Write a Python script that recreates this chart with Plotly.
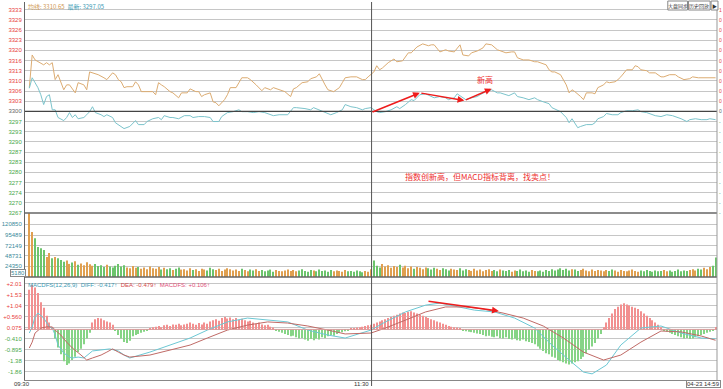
import numpy as np
import plotly.graph_objects as go

# ---------------- data ----------------
avg_min = [0,1,2,3,5,6,7,8,9,10,11,12,13,14,16,17,19,20,21,22,24,26,27,29,30,31,32,33,34,36,37,38,39,41,43,44,45,46,47,49,50,52,53,55,56,58,59,60,61,63,64,65,66,68,69,70,72,73,74,76,77,79,81,82,84,85,87,89,91,92,93,95,97,98,100,101,103,104,106,108,109,110,112,114,116,117,118,120,121,122,123,125,127,128,130,132,133,135,137,139,140,141,143,145,146,148,150,151,153,154,156,158,159,161,163,164,166,168,169,170,172,174,176,177,178,180,181,182,183,185,187,188,189,190,192,193,194,196,197,198,200,201,202,204,205,206,208,210,211,212,213,215,216,218,220,221,223,225,226,228,230,231,233,235,237,239]
avg_val = [3307.7,3318.3,3316.7,3316.1,3315.1,3315.8,3315.1,3315.8,3310.3,3311.9,3309.6,3307.0,3308.6,3308.6,3306.0,3309.3,3308.6,3307.0,3312.8,3312.5,3311.9,3310.9,3310.3,3312.5,3311.9,3310.3,3309.6,3307.7,3308.0,3308.0,3309.6,3308.6,3306.4,3306.4,3306.4,3305.4,3309.3,3308.6,3308.0,3306.4,3306.0,3304.4,3306.0,3306.0,3307.3,3306.4,3306.4,3304.8,3305.4,3306.0,3303.1,3302.8,3301.8,3303.8,3305.4,3307.7,3307.7,3309.3,3310.9,3310.9,3310.3,3308.6,3306.7,3307.7,3307.0,3307.7,3307.0,3306.4,3304.8,3307.3,3307.7,3309.3,3309.6,3310.6,3311.2,3312.2,3308.6,3307.0,3306.4,3307.7,3309.3,3310.9,3311.2,3311.2,3310.3,3310.3,3311.2,3312.8,3314.8,3313.5,3314.1,3315.8,3317.0,3316.1,3316.4,3319.0,3319.0,3320.9,3321.9,3321.3,3321.6,3321.6,3319.3,3320.0,3319.6,3319.3,3321.6,3318.3,3318.0,3319.0,3319.6,3320.6,3321.9,3321.6,3320.0,3319.6,3319.0,3319.3,3319.3,3317.4,3316.7,3316.7,3316.1,3316.1,3315.8,3315.1,3313.5,3312.8,3312.8,3311.9,3308.6,3306.0,3307.0,3306.4,3304.8,3303.8,3306.0,3306.0,3305.7,3307.7,3308.6,3309.6,3309.3,3309.6,3310.3,3311.2,3313.5,3313.5,3314.8,3314.5,3313.5,3313.2,3312.5,3312.5,3311.2,3311.2,3311.9,3311.9,3311.2,3310.3,3310.6,3311.2,3310.9,3310.9,3310.9,3310.9]

last_min = [0,1,2,3,4,5,6,7,8,9,10,12,13,14,15,16,17,19,20,21,22,23,25,26,27,29,30,32,33,35,37,38,40,41,43,45,46,47,49,50,52,54,56,57,59,61,63,64,66,67,69,71,73,74,76,78,80,82,84,85,87,90,92,93,96,98,99,101,103,105,107,109,110,112,114,116,117,119,121,122,124,126,128,129,131,133,134,136,138,140,141,143,145,146,148,149,151,152,154,156,157,159,161,163,164,166,167,169,170,172,174,176,177,179,181,182,184,185,187,188,189,190,191,192,194,196,197,198,200,201,203,205,206,208,210,212,213,215,217,218,220,222,224,225,227,229,230,232,234,236,237,239]
last_val = [3307.5,3310.9,3309.3,3307.7,3305.4,3302.2,3304.8,3305.4,3300.5,3300.5,3298.0,3297.0,3298.0,3299.6,3298.0,3298.9,3297.6,3298.0,3298.9,3299.9,3301.5,3299.6,3298.9,3298.3,3298.9,3298.0,3296.3,3295.1,3294.4,3295.1,3297.0,3295.7,3295.7,3296.7,3297.6,3298.0,3297.3,3298.6,3298.0,3298.0,3297.6,3298.6,3298.6,3298.0,3298.3,3298.3,3298.0,3296.7,3296.7,3298.3,3299.6,3299.9,3300.5,3299.9,3299.9,3299.6,3299.9,3299.6,3298.9,3298.6,3298.9,3298.9,3301.2,3301.2,3300.9,3300.5,3301.2,3300.5,3299.6,3298.9,3299.6,3300.5,3302.2,3301.5,3301.2,3300.5,3300.9,3301.2,3299.9,3299.6,3299.9,3300.5,3301.5,3300.9,3302.2,3303.8,3303.5,3305.4,3305.7,3304.8,3304.4,3304.8,3304.4,3303.8,3304.4,3305.7,3304.4,3303.8,3304.4,3304.8,3305.4,3306.4,3307.0,3306.0,3306.0,3305.4,3305.1,3306.0,3304.8,3304.4,3303.8,3304.4,3303.8,3303.1,3302.5,3301.2,3300.5,3299.9,3298.0,3296.3,3297.6,3296.3,3294.7,3295.1,3295.7,3295.7,3296.3,3297.6,3298.3,3299.3,3298.9,3298.9,3299.6,3300.2,3300.2,3300.5,3299.9,3299.6,3298.9,3298.6,3298.3,3298.9,3298.6,3298.3,3297.6,3296.7,3297.3,3297.6,3297.3,3297.3,3297.6,3297.3]

# volume per minute, in thousands of lots
vol_k = [146,103,89,69,66,62,46,55,43,46,
         43,39,35,38,30,33,36,28,31,27,
         34,29,26,30,25,27,23,28,24,22,
         26,30,24,27,22,20,25,21,23,19,
         22,18,24,20,19,23,17,21,18,20,
         16,19,22,17,18,15,20,16,18,14,
         19,17,15,21,18,16,19,14,17,20,
         18,15,17,14,19,16,13,17,15,18,
         14,16,13,15,17,12,16,14,13,15,
         17,14,16,13,15,18,14,12,16,15,
         13,17,14,15,12,16,13,15,14,12,
         16,13,14,12,15,13,11,14,12,18,
         38,26,22,30,24,27,21,25,23,28,
         22,26,20,24,19,23,21,18,22,20,
         17,21,19,16,20,18,15,19,17,16,
         20,15,18,16,14,19,15,17,13,16,
         18,14,16,13,17,15,14,16,12,15,
         14,17,13,15,12,16,14,13,15,12,
         16,14,18,15,17,20,16,19,15,18,
         17,14,16,19,15,13,17,14,16,15,
         13,16,14,17,15,12,16,14,13,15,
         17,14,12,15,13,16,14,12,15,13,
         14,16,13,15,12,14,17,13,15,14,
         16,18,15,19,17,21,18,23,26,45]

diff_min = [0,1,2,3,5,6,7,8,9,10,12,14,15,17,19,22,28,31,33,35,42,49,56,62,69,76,83,90,97,104,110,119,124,131,138,143,148,155,162,169,176,182,188,193,196,201,206,213,220,227,234,239]
diff_val = [-0.16,0.11,0.55,0.72,0.50,0.28,0.11,0.06,-0.25,-0.69,-1.04,-1.22,-1.26,-1.22,-1.26,-0.95,-0.86,-0.95,-1.13,-1.26,-1.0,-0.69,-0.38,-0.03,0.33,0.50,0.41,0.33,-0.03,-0.25,-0.38,-0.03,0.33,0.77,1.07,1.16,1.03,0.85,0.77,0.50,0.06,-0.69,-1.35,-1.88,-1.96,-1.57,-0.69,0.06,0.15,-0.16,-0.38,-0.417]

dea_min = [0,1,2,4,6,8,9,11,13,15,18,20,22,25,27,29,31,33,35,42,49,56,62,69,76,83,90,97,104,110,119,124,131,138,145,152,158,165,172,179,186,193,200,206,213,220,227,234,239]
dea_val = [-0.82,-0.56,-0.16,0.06,0.11,0.11,-0.03,-0.25,-0.56,-0.82,-1.13,-1.35,-1.26,-1.13,-1.0,-0.86,-1.0,-1.13,-1.22,-1.13,-0.91,-0.69,-0.38,-0.03,0.19,0.33,0.28,0.15,-0.03,-0.20,-0.16,0.06,0.41,0.77,0.99,0.99,0.90,0.72,0.50,0.15,-0.38,-1.0,-1.35,-1.13,-0.56,-0.07,-0.11,-0.29,-0.479]

macd_hist = [1.75,1.96,1.85,1.6,1.2,0.95,0.6,0.3,0.1,
             -0.4,-0.8,-1.1,-1.4,-1.57,-1.5,-1.35,-1.2,-1.0,-0.85,-0.65,-0.4,-0.15,
             0.3,0.45,0.5,0.48,0.4,0.35,0.3,0.2,
             -0.05,-0.25,-0.4,-0.55,-0.6,-0.5,
             -0.3,-0.25,-0.2,-0.15,-0.1,-0.05,
             0.05,0.1,0.12,0.15,0.1,0.18,0.2,0.15,0.22,0.2,0.25,0.18,0.22,0.25,
             0.3,0.25,0.2,0.28,0.22,0.3,0.25,
             0.35,0.4,0.45,0.38,0.5,0.55,0.48,0.52,0.45,0.5,0.42,0.47,0.4,0.35,0.38,0.3,0.25,0.3,0.22,0.18,0.2,0.12,0.08,
             -0.05,-0.1,-0.15,-0.2,-0.25,-0.3,-0.28,-0.35,-0.4,-0.38,-0.45,-0.5,-0.42,-0.48,-0.4,-0.45,-0.35,-0.38,-0.3,-0.25,-0.28,-0.2,-0.15,
             -0.12,-0.08,-0.05,0.03,0.05,0.08,0.1,0.12,0.15,0.18,0.2,
             0.25,0.3,0.35,0.4,0.45,0.5,0.55,0.6,0.65,0.7,0.75,0.72,0.78,0.8,0.75,0.7,0.65,0.6,
             0.55,0.5,0.45,0.4,0.35,0.3,0.25,0.2,0.15,0.12,0.1,0.08,0.05,
             -0.05,-0.08,-0.1,-0.12,-0.15,-0.18,-0.2,-0.25,-0.3,-0.28,-0.32,-0.35,-0.3,-0.38,-0.4,-0.35,-0.42,-0.45,-0.4,-0.48,-0.5,-0.45,-0.52,-0.55,-0.6,
             -0.65,-0.75,-0.85,-0.95,-1.05,-1.1,-1.2,-1.25,-1.35,-1.4,-1.45,-1.5,-1.55,-1.5,-1.45,-1.4,-1.3,-1.2,-1.05,-0.9,-0.75,-0.6,-0.4,-0.2,
             0.1,0.3,0.5,0.7,0.9,1.0,1.1,1.15,1.1,1.05,1.0,0.95,0.9,0.8,0.7,0.6,0.5,0.4,0.3,0.2,0.1,
             -0.05,-0.1,-0.15,-0.2,-0.25,-0.3,-0.35,-0.4,-0.38,-0.42,-0.4,-0.35,-0.3,-0.25,-0.2,-0.15,-0.1,-0.05,0.106]

price_base = 3300.0
price_step = 3.3
price_tick_text = ["3333","3329","3326","3323","3320","3316","3313","3310","3306","3303","3300",
                   "3297","3293","3290","3287","3283","3280","3277","3274","3270","3267"]
# right-hand percent scale: only the first glyph shows at the window edge
pct_tick_text = ["1","0","0","0","0","0","0","0","0","0","0",
                 "-","-","-","-","-","-","-","-","-","-"]
vol_tick_vals = [24.350, 48.731, 72.149, 95.489, 120.850]
vol_tick_text = ["24350", "48731", "72149", "95489", "120850"]
macd_tick_vals = [2.015, 1.53, 1.045, 0.56, 0.075, -0.41, -0.895, -1.38, -1.865]
macd_tick_text = ["+2.01", "+1.53", "+1.04", "+0.560", "0.075", "-0.410", "-0.895", "-1.38", "-1.86"]

# divergence arrows (minute, value)
price_arrow_min = [119, 136, 151.5, 161]
price_arrow_val = [3299.6, 3306.0, 3303.5, 3307.3]
macd_arrow_min = [138.5, 163.5]
macd_arrow_val = [1.25, 0.81]
session_break = 119.2

# ---------------- styling ----------------
W, H = 723, 389
ML, MR, MT, MB = 14, 6, 2, 9
PW, PH = W - ML - MR, H - MT - MB
def px(x):
    return (x - ML) / PW
def py(y):
    return (H - MB - y) / PH

RED = "#e8423c"
GRN = "#4aa84a"
ORANGE = "#dcac72"
TEAL = "#7cc4cc"
GRID = "#c6c6c6"
FONT = "Liberation Sans"
CJK = "Noto Sans CJK SC"

price_dom = [py(213), 1]
vol_dom = [py(277), py(213)]
macd_dom = [0, py(277)]

def colored(texts, colors):
    return ['<span style="color:%s">%s</span>' % (c, t) for t, c in zip(texts, colors)]

price_tick_vals = [price_base + price_step * (10 - i) for i in range(len(price_tick_text))]
price_tick_cols = [RED if v > price_base + 0.01 else (GRN if v < price_base - 0.01 else "#666") for v in price_tick_vals]

fig = go.Figure()

fig.add_trace(go.Scatter(x=avg_min, y=avg_val, mode="lines", line=dict(color=ORANGE, width=1), yaxis="y"))
fig.add_trace(go.Scatter(x=last_min, y=last_val, mode="lines", line=dict(color=TEAL, width=1), yaxis="y"))

minutes = np.arange(len(vol_k))
ref_price = np.interp(minutes, last_min, last_val)
vol_cols = ["#e0a050" if i == 0 or ref_price[i] >= ref_price[i - 1] else "#6cc46c" for i in minutes]
fig.add_trace(go.Bar(x=minutes, y=vol_k, marker=dict(color=vol_cols, line=dict(width=0)), width=0.36, yaxis="y2"))

hm = np.arange(len(macd_hist))
hist_cols = ["#f29090" if v >= 0 else "#86d486" for v in macd_hist]
fig.add_trace(go.Bar(x=hm, y=macd_hist, marker=dict(color=hist_cols, line=dict(width=0)), width=0.36, yaxis="y3"))
fig.add_trace(go.Scatter(x=diff_min, y=diff_val, mode="lines", line=dict(color="#6cc8d4", width=1), yaxis="y3"))
fig.add_trace(go.Scatter(x=dea_min, y=dea_val, mode="lines", line=dict(color="#c06a66", width=1), yaxis="y3"))

tickfont = dict(family=FONT, size=6)
yax_common = dict(showgrid=True, gridcolor=GRID, gridwidth=1, zeroline=False, showline=True,
                  linecolor="#666", linewidth=1, ticks="", tickfont=tickfont, anchor="x",
                  ticklabelstandoff=1, fixedrange=True)

fig.update_layout(
    width=W, height=H,
    margin=dict(l=ML, r=MR, t=MT, b=MB),
    paper_bgcolor="white", plot_bgcolor="white",
    showlegend=False, hovermode=False, barmode="overlay",
    xaxis=dict(range=[-1.5, 239.5], showgrid=False, zeroline=False, showticklabels=False,
               showline=True, linecolor="#888", anchor="y3", fixedrange=True),
    yaxis=dict(domain=price_dom, range=[3267, 3335.5], tickvals=price_tick_vals,
               ticktext=colored(price_tick_text, price_tick_cols), **yax_common),
    yaxis2=dict(domain=vol_dom, range=[0, 146.8], tickvals=vol_tick_vals,
                ticktext=colored(vol_tick_text, ["#3a8a9a"] * 5), **yax_common),
    yaxis3=dict(domain=macd_dom, range=[-2.23, 2.31], tickvals=macd_tick_vals,
                ticktext=colored(macd_tick_text, [RED if v > 0 else GRN for v in macd_tick_vals]), **yax_common),
)

shapes = []
shapes.append(dict(type="line", xref="paper", yref="y", x0=0, x1=1, y0=price_base, y1=price_base,
                   line=dict(color="#444", width=1.3)))
for yy in (213, 277):
    shapes.append(dict(type="line", xref="paper", yref="paper", x0=0, x1=1, y0=py(yy), y1=py(yy),
                       line=dict(color="#666", width=1.3)))
shapes.append(dict(type="line", xref="paper", yref="y3", x0=0, x1=1, y0=0, y1=0,
                   line=dict(color="#d89a9a", width=1)))
shapes.append(dict(type="line", xref="x", yref="paper", x0=session_break, x1=session_break, y0=py(386), y1=1,
                   line=dict(color="#555", width=1)))
shapes.append(dict(type="line", xref="paper", yref="paper", x0=1, x1=1, y0=0, y1=1,
                   line=dict(color="#999", width=1)))
for x0, x1 in ((667, 687), (688, 710), (711, 718)):
    shapes.append(dict(type="rect", xref="paper", yref="paper", x0=px(x0), x1=px(x1), y0=py(10), y1=py(1),
                       line=dict(color="#888", width=1), fillcolor="white"))
fig.update_layout(shapes=shapes)

ann = []
ann.append(dict(xref="paper", yref="paper", x=px(15), y=py(6), xanchor="left", yanchor="middle", showarrow=False,
                text='<span style="color:#cf9650">均线: 3310.65</span>  <span style="color:#3a9ab4">最新: 3297.05</span>',
                font=dict(family=CJK, size=6)))
ann.append(dict(xref="paper", yref="paper", x=px(15), y=py(285), xanchor="left", yanchor="middle", showarrow=False,
                text='<span style="color:#3a9ab4">MACDFS(12,26,9)  DIFF: -0.417↑</span>  '
                     '<span style="color:#d04848">DEA: -0.479↑</span>  <span style="color:#e0507a">MACDFS: +0.106↑</span>',
                font=dict(family=FONT, size=6)))
for cx, txt in ((677, "大盘同步"), (699, "历史回放"), (714.5, "▶")):
    ann.append(dict(xref="paper", yref="paper", x=px(cx), y=py(5.5), xanchor="center", yanchor="middle",
                    showarrow=False, text=txt, font=dict(family=CJK, size=5, color="#333")))
for v, t, c in zip(price_tick_vals, pct_tick_text, price_tick_cols):
    ann.append(dict(xref="paper", yref="y", x=1, y=v, xanchor="left", yanchor="middle", xshift=0,
                    showarrow=False, text=t, font=dict(family=FONT, size=5, color=c)))
for i in range(len(price_arrow_min) - 1):
    ann.append(dict(xref="x", yref="y", axref="x", ayref="y",
                    x=price_arrow_min[i + 1], y=price_arrow_val[i + 1],
                    ax=price_arrow_min[i], ay=price_arrow_val[i],
                    showarrow=True, arrowhead=2, arrowsize=0.9, arrowwidth=1.5, arrowcolor="#ee1c1c", text=""))
ann.append(dict(xref="x", yref="y3", axref="x", ayref="y3",
                x=macd_arrow_min[1], y=macd_arrow_val[1], ax=macd_arrow_min[0], ay=macd_arrow_val[0],
                showarrow=True, arrowhead=2, arrowsize=0.9, arrowwidth=1.5, arrowcolor="#ee1c1c", text=""))
ann.append(dict(xref="paper", yref="paper", x=px(481), y=py(79), yanchor="middle", showarrow=False, text="新高",
                font=dict(family=CJK, size=8, color="#ee3030")))
ann.append(dict(xref="paper", yref="paper", x=px(476), y=py(176), showarrow=False,
                text="指数创新高，但MACD指标背离，找卖点！",
                font=dict(family=CJK, size=8, color="#ee3030")))
ann.append(dict(xref="paper", yref="paper", x=px(1), y=py(384), xanchor="left", yanchor="middle", showarrow=False,
                text="09:30", font=dict(family=FONT, size=6, color="#333")))
ann.append(dict(xref="paper", yref="paper", x=px(365), y=py(384), xanchor="right", yanchor="middle", showarrow=False,
                text="11:30", font=dict(family=FONT, size=6, color="#333")))
ann.append(dict(xref="paper", yref="paper", x=px(703), y=py(384), xanchor="center", yanchor="middle", showarrow=False,
                text="04-23 14:59", font=dict(family=FONT, size=6, color="#333"),
                bordercolor="#888", borderwidth=1, borderpad=0, bgcolor="white"))
ann.append(dict(xref="paper", yref="paper", x=px(7), y=py(273), xanchor="center", yanchor="middle", showarrow=False,
                text="5180", font=dict(family=FONT, size=6, color="#3a8a9a"),
                bordercolor="#888", borderwidth=1, borderpad=0, bgcolor="white"))
fig.update_layout(annotations=ann)

fig.write_html("out.html", config={"displayModeBar": False},
               post_script="document.body.style.margin='0';document.body.style.overflow='hidden';")
